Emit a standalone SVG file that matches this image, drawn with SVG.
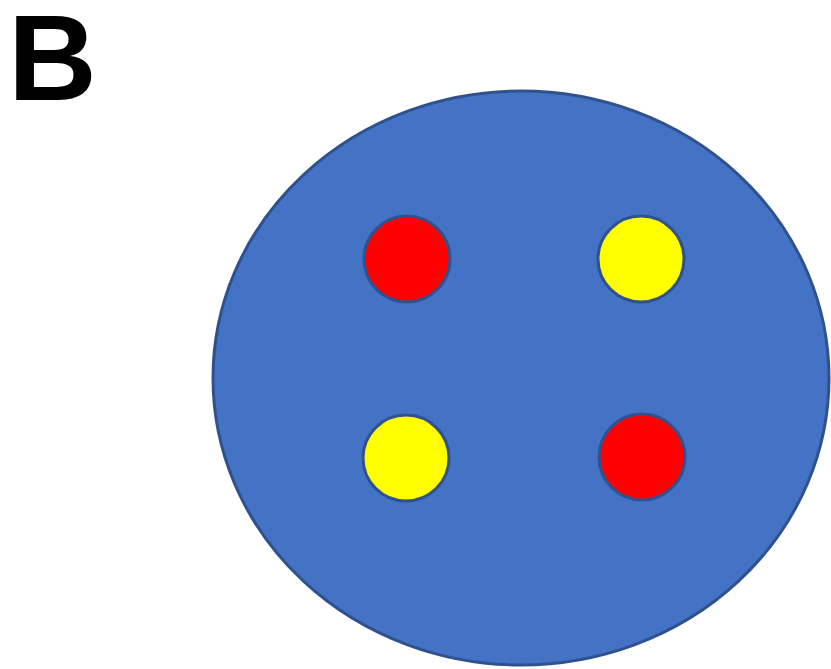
<svg xmlns="http://www.w3.org/2000/svg" width="831" height="669" viewBox="0 0 831 669">
<style>
.dot{stroke:#2F528F;stroke-width:3}
.red{fill:#FF0000}
.yel{fill:#FFFF00}
</style>
<rect width="831" height="669" fill="#ffffff"/>
<text x="8" y="100" font-family="Liberation Sans, Arial, sans-serif" font-weight="bold" font-size="123" fill="#000000">B</text>
<g id="cell">
<ellipse cx="521" cy="378" rx="308" ry="287" fill="#4472C4" stroke="#2F528F" stroke-width="3"/>
</g>
<g id="dot1"><circle class="dot red" cx="407" cy="259" r="43"/></g>
<g id="dot2"><circle class="dot yel" cx="641" cy="259" r="43"/></g>
<g id="dot3"><circle class="dot yel" cx="406" cy="458" r="43"/></g>
<g id="dot4"><circle class="dot red" cx="642" cy="457" r="43"/></g>
<g id="connectors"/>
</svg>
